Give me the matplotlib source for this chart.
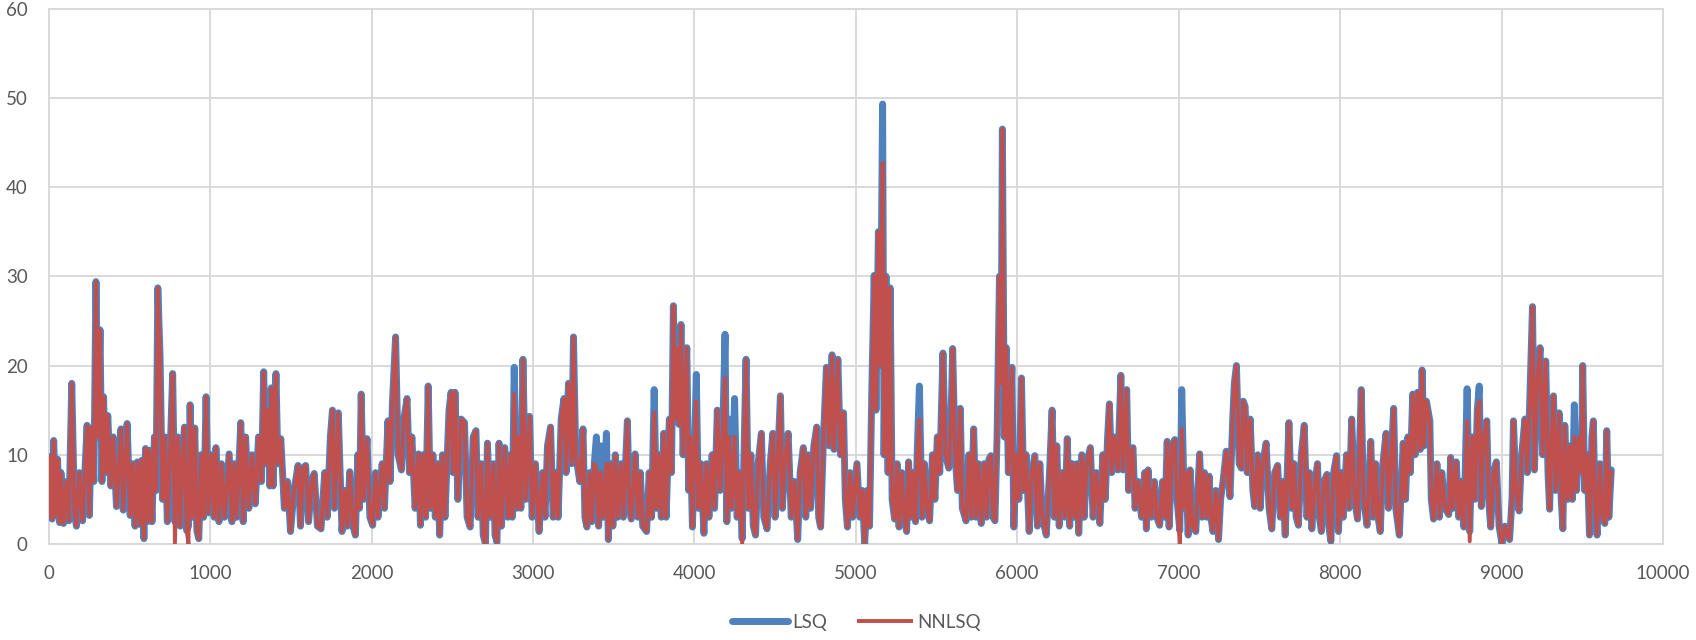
import numpy as np
import matplotlib
matplotlib.use("Agg")
import matplotlib.pyplot as plt

# ------ values (spike tops / troughs) -------------------------------
sample_x = [
    0, 12, 22, 31, 45, 55, 68, 76, 92, 110,
    125, 143, 160, 172, 190, 210, 238, 252, 265, 280,
    293, 305, 318, 330, 340, 352, 366, 385, 400, 420,
    448, 462, 486, 505, 520, 535, 550, 565, 578, 590,
    600, 612, 625, 640, 655, 665, 676, 690, 705, 720,
    735, 752, 768, 782, 800, 815, 830, 841, 855, 866,
    876, 890, 905, 918, 930, 945, 960, 975, 990, 1010,
    1025, 1036, 1055, 1070, 1090, 1118, 1135, 1150, 1165, 1190,
    1205, 1220, 1240, 1260, 1280, 1300, 1318, 1332, 1345, 1360,
    1370, 1379, 1390, 1408, 1420, 1438, 1460, 1480, 1498, 1520,
    1545, 1560, 1575, 1592, 1610, 1630, 1645, 1665, 1687, 1710,
    1725, 1745, 1758, 1770, 1794, 1817, 1835, 1850, 1865, 1885,
    1900, 1915, 1925, 1936, 1950, 1972, 1990, 2007, 2025, 2040,
    2066, 2080, 2102, 2115, 2130, 2149, 2165, 2185, 2200, 2220,
    2235, 2250, 2270, 2291, 2303, 2320, 2335, 2351, 2365, 2380,
    2395, 2410, 2422, 2440, 2455, 2480, 2493, 2505, 2517, 2535,
    2555, 2576, 2592, 2611, 2630, 2647, 2660, 2680, 2692, 2706,
    2718, 2735, 2755, 2765, 2777, 2790, 2805, 2825, 2845, 2860,
    2872, 2884, 2900, 2915, 2925, 2938, 2955, 2979, 2995, 3015,
    3038, 3060, 3075, 3090, 3109, 3125, 3140, 3156, 3175, 3192,
    3205, 3220, 3240, 3251, 3265, 3290, 3310, 3322, 3334, 3350,
    3365, 3380, 3393, 3407, 3420, 3435, 3455, 3467, 3480, 3495,
    3510, 3525, 3545, 3560, 3585, 3598, 3609, 3633, 3650, 3665,
    3680, 3704, 3720, 3735, 3751, 3765, 3780, 3795, 3810, 3825,
    3845, 3858, 3870, 3882, 3895, 3905, 3917, 3930, 3953, 3965,
    3975, 3988, 4000, 4012, 4025, 4040, 4059, 4075, 4090, 4110,
    4125, 4142, 4160, 4175, 4190, 4201, 4215, 4230, 4249, 4265,
    4280, 4296, 4320, 4335, 4350, 4365, 4379, 4395, 4415, 4430,
    4450, 4470, 4486, 4500, 4515, 4533, 4545, 4560, 4581, 4600,
    4620, 4640, 4655, 4675, 4690, 4705, 4720, 4740, 4758, 4770,
    4782, 4800, 4818, 4835, 4853, 4865, 4889, 4905, 4924, 4935,
    4948, 4965, 4980, 5007, 5025, 5040, 5055, 5070, 5085, 5100,
    5114, 5125, 5140, 5152, 5166, 5175, 5187, 5200, 5213, 5225,
    5240, 5256, 5268, 5285, 5300, 5315, 5327, 5340, 5355, 5370,
    5380, 5394, 5410, 5425, 5440, 5457, 5475, 5490, 5505, 5520,
    5540, 5555, 5576, 5590, 5600, 5615, 5630, 5647, 5660, 5683,
    5700, 5715, 5730, 5745, 5760, 5777, 5795, 5810, 5825, 5837,
    5850, 5862, 5875, 5890, 5900, 5908, 5920, 5932, 5945, 5967,
    5979, 5995, 6010, 6026, 6040, 6055, 6074, 6090, 6109, 6125,
    6140, 6155, 6180, 6200, 6216, 6230, 6245, 6260, 6280, 6295,
    6310, 6325, 6340, 6355, 6370, 6381, 6400, 6415, 6430, 6453,
    6470, 6490, 6512, 6530, 6545, 6560, 6571, 6585, 6600, 6623,
    6642, 6654, 6678, 6690, 6705, 6717, 6730, 6750, 6770, 6790,
    6800, 6811, 6830, 6850, 6865, 6882, 6900, 6915, 6929, 6941,
    6960, 6976, 6990, 7007, 7019, 7035, 7045, 7059, 7071, 7085,
    7106, 7130, 7145, 7160, 7175, 7189, 7200, 7212, 7230, 7247,
    7260, 7275, 7295, 7318, 7335, 7345, 7358, 7375, 7389, 7400,
    7412, 7425, 7443, 7460, 7471, 7490, 7505, 7520, 7542, 7560,
    7577, 7595, 7613, 7630, 7645, 7660, 7683, 7700, 7715, 7728,
    7742, 7760, 7778, 7795, 7810, 7825, 7845, 7860, 7872, 7884,
    7900, 7919, 7930, 7943, 7960, 7978, 7990, 8005, 8020, 8040,
    8055, 8072, 8090, 8108, 8131, 8145, 8167, 8190, 8205, 8220,
    8235, 8249, 8265, 8285, 8300, 8315, 8332, 8345, 8367, 8391,
    8405, 8420, 8435, 8450, 8465, 8480, 8497, 8508, 8520, 8535,
    8556, 8565, 8579, 8600, 8615, 8630, 8650, 8673, 8685, 8700,
    8720, 8735, 8750, 8767, 8787, 8803, 8820, 8835, 8850, 8862,
    8875, 8890, 8909, 8920, 8933, 8950, 8968, 8985, 9003, 9020,
    9035, 9050, 9065, 9074, 9090, 9109, 9125, 9145, 9160, 9175,
    9192, 9204, 9220, 9239, 9255, 9274, 9288, 9298, 9310, 9322,
    9335, 9357, 9370, 9380, 9392, 9410, 9425, 9439, 9451, 9465,
    9480, 9495, 9503, 9515, 9530, 9545, 9560, 9569, 9580, 9592,
    9610, 9625, 9640, 9652, 9665, 9680,
]

lsq = [
    3.0, 9.8, 2.8, 11.6, 3.2, 9.5, 2.4, 8.0, 2.3, 7.0,
    2.6, 18.0, 3.5, 2.0, 8.0, 2.6, 13.3, 3.2, 13.0, 7.0,
    29.4, 12.0, 24.0, 7.0, 16.5, 8.0, 14.4, 6.5, 12.0, 4.2,
    12.9, 3.8, 13.5, 3.2, 9.0, 2.0, 9.2, 2.2, 9.4, 0.6,
    10.7, 2.5, 10.5, 2.5, 12.0, 6.0, 28.7, 21.0, 5.0, 12.0,
    2.5, 10.0, 19.1, 2.5, 12.0, 2.0, 10.0, 13.1, 1.5, 2.0,
    15.6, 3.0, 13.0, 1.5, 0.6, 10.0, 3.0, 16.5, 3.5, 10.0,
    3.0, 10.8, 2.5, 9.0, 3.0, 10.1, 2.5, 9.0, 3.0, 13.6,
    2.5, 12.0, 4.0, 10.0, 4.5, 12.0, 7.0, 19.3, 9.0, 15.0,
    6.5, 17.5, 6.5, 19.1, 9.0, 11.8, 4.0, 7.0, 1.4, 6.0,
    8.8, 2.0, 8.5, 8.8, 2.5, 7.0, 7.9, 2.0, 1.7, 8.0,
    3.0, 12.0, 15.0, 4.0, 14.7, 1.4, 6.0, 2.0, 8.1, 2.0,
    1.0, 10.0, 4.0, 16.8, 5.0, 11.8, 3.0, 2.1, 8.0, 3.0,
    9.0, 4.0, 13.8, 7.0, 16.0, 23.2, 10.0, 8.3, 14.0, 16.3,
    8.0, 12.0, 4.0, 10.1, 2.1, 10.0, 3.0, 17.7, 4.0, 10.0,
    3.0, 9.0, 1.0, 10.0, 3.0, 15.0, 17.0, 8.0, 17.0, 5.0,
    14.0, 13.6, 3.0, 1.9, 12.0, 12.7, 3.0, 9.0, 1.0, 0.0,
    11.3, 3.0, 9.0, 1.0, 0.2, 11.3, 2.0, 10.8, 3.0, 10.0,
    3.0, 19.8, 4.0, 12.0, 4.0, 20.7, 5.0, 14.3, 3.0, 9.0,
    1.4, 8.0, 3.0, 11.0, 13.1, 3.0, 8.0, 3.0, 14.0, 16.3,
    8.0, 18.0, 9.0, 23.2, 10.0, 7.0, 12.9, 3.0, 1.9, 8.0,
    2.5, 9.0, 12.0, 2.0, 11.0, 3.0, 12.4, 0.5, 9.0, 2.0,
    10.0, 3.0, 9.0, 3.0, 13.8, 4.0, 2.8, 10.1, 3.0, 8.0,
    2.0, 1.4, 8.0, 3.0, 17.3, 4.0, 10.0, 3.0, 12.4, 3.0,
    14.0, 8.0, 26.7, 14.0, 22.0, 13.4, 24.6, 10.0, 22.0, 6.0,
    12.0, 1.9, 10.0, 19.0, 4.0, 9.0, 1.2, 9.0, 3.0, 10.0,
    4.0, 15.0, 6.0, 12.0, 23.5, 2.5, 14.0, 4.0, 16.3, 3.0,
    8.0, 0.6, 20.7, 4.0, 10.0, 2.0, 1.0, 9.0, 12.4, 3.0,
    1.7, 9.0, 12.4, 3.0, 9.0, 16.6, 4.0, 9.0, 12.4, 3.0,
    7.0, 0.5, 8.0, 10.8, 3.0, 10.0, 4.0, 11.0, 13.1, 3.0,
    1.9, 12.0, 19.8, 11.0, 21.2, 10.6, 20.7, 10.0, 14.7, 5.0,
    1.9, 8.0, 3.0, 9.0, 3.0, 6.0, 0.0, 6.0, 2.0, 18.0,
    30.1, 15.0, 35.0, 20.0, 49.3, 10.0, 30.0, 8.0, 28.7, 5.0,
    2.8, 9.0, 1.9, 8.0, 3.0, 1.4, 9.2, 3.0, 8.0, 2.5,
    10.0, 17.7, 3.0, 9.0, 4.0, 2.6, 10.0, 5.0, 12.0, 8.0,
    21.4, 10.0, 8.5, 14.0, 21.9, 10.0, 6.0, 15.2, 4.0, 2.6,
    10.0, 3.0, 12.9, 3.0, 9.0, 2.3, 9.0, 3.0, 9.5, 9.9,
    3.0, 2.6, 12.0, 30.0, 18.0, 46.5, 12.0, 22.0, 8.0, 19.8,
    1.9, 10.0, 5.0, 18.6, 6.0, 10.0, 1.4, 8.0, 9.9, 2.0,
    9.0, 3.0, 1.0, 8.0, 15.0, 3.0, 11.0, 2.0, 8.0, 3.0,
    11.8, 2.0, 9.0, 3.0, 9.0, 1.2, 10.0, 3.0, 9.0, 10.8,
    3.0, 8.0, 2.3, 10.0, 5.0, 12.0, 15.7, 8.0, 12.0, 8.3,
    18.9, 8.3, 17.3, 6.0, 10.0, 10.8, 4.0, 7.0, 3.0, 8.0,
    1.7, 8.3, 3.0, 7.0, 3.0, 2.1, 7.0, 3.0, 11.5, 1.9,
    11.0, 11.7, 5.0, 1.5, 17.3, 4.0, 8.0, 1.0, 8.3, 2.0,
    1.4, 10.1, 3.0, 8.0, 3.0, 7.6, 3.0, 1.4, 6.0, 0.5,
    5.0, 7.0, 10.4, 5.3, 14.0, 18.0, 20.0, 9.0, 8.5, 16.0,
    15.4, 8.0, 14.0, 6.0, 4.2, 10.0, 4.0, 9.0, 11.3, 4.0,
    1.7, 8.0, 8.8, 3.0, 7.0, 1.0, 13.6, 4.0, 9.0, 3.0,
    2.1, 10.0, 13.3, 3.0, 8.0, 1.7, 7.0, 9.0, 3.0, 1.4,
    7.0, 7.8, 2.0, 0.3, 8.0, 9.9, 1.4, 8.0, 3.0, 10.0,
    4.0, 14.0, 5.0, 2.8, 17.3, 5.0, 2.1, 11.5, 3.0, 9.0,
    3.0, 1.4, 9.0, 12.4, 4.0, 9.0, 15.2, 4.0, 1.0, 11.3,
    5.0, 12.0, 8.0, 16.8, 10.0, 17.0, 10.6, 19.5, 11.0, 16.0,
    13.8, 5.0, 2.8, 9.0, 3.0, 8.0, 4.0, 3.3, 9.7, 4.0,
    9.2, 3.0, 7.0, 1.9, 17.4, 1.4, 12.0, 5.0, 15.0, 17.7,
    4.2, 12.0, 13.8, 5.0, 1.9, 8.0, 9.2, 2.0, 0.0, 2.0,
    1.0, 0.5, 5.0, 13.8, 6.0, 3.7, 10.0, 14.0, 8.0, 16.0,
    26.6, 8.3, 18.0, 22.0, 10.0, 20.5, 8.0, 3.9, 12.0, 16.6,
    6.0, 14.7, 5.0, 1.7, 13.3, 5.0, 11.0, 5.0, 15.6, 6.0,
    12.0, 8.0, 20.0, 6.0, 10.0, 1.0, 12.0, 13.8, 4.0, 1.0,
    9.0, 3.0, 2.3, 12.7, 3.0, 8.3,
]

# NNLSQ follows LSQ except at these samples (lower tops, zero dips)
nnlsq_x = [782, 866, 2884, 3393, 3420, 3455, 3751, 4012, 4190, 4215,
           4249, 4296, 5166, 5394, 7007, 7019, 8787, 8803, 8862, 9451]
nnlsq_y = [0.0, 0.0, 16.8, 8.5, 8.0, 9.0, 14.7, 16.0, 18.6, 12.0,
           12.0, 0.0, 42.7, 14.0, 0.0, 12.9, 13.8, 0.3, 16.0, 12.0]

x = np.array(sample_x)
y_lsq = np.array(lsq)
y_nn = y_lsq.copy()
for xv, yv in zip(nnlsq_x, nnlsq_y):
    y_nn[x == xv] = yv

blue = '#4F81BD'
red = '#C0504D'
grid_c = '#D9D9D9'
txt_c = '#595959'

plt.rcParams['font.family'] = ['Lato', 'DejaVu Sans']
fig = plt.figure(figsize=(16.96, 6.4), dpi=100)
ax = fig.add_axes([0.0287, 0.15, 0.9518, 0.8366])

ax.plot(x, y_lsq, color=blue, lw=5.0, solid_joinstyle='round',
        solid_capstyle='round', label='LSQ', zorder=3)
ax.plot(x, y_nn, color=red, lw=2.8, solid_joinstyle='round',
        solid_capstyle='butt', label='NNLSQ', zorder=4)

ax.set_xlim(0, 10000)
ax.set_ylim(0, 60)
ax.set_xticks(np.arange(0, 10001, 1000))
ax.set_yticks(np.arange(0, 61, 10))
ax.grid(True, color=grid_c, lw=1.4)
ax.set_axisbelow(True)
for s in ax.spines.values():
    s.set_color(grid_c)
    s.set_linewidth(1.4)
ax.tick_params(length=0, labelsize=13.5, labelcolor=txt_c)
ax.tick_params(axis='y', pad=15)
ax.tick_params(axis='x', pad=15)

leg = fig.legend(loc='center', bbox_to_anchor=(0.505, 0.028), ncol=2,
                 frameon=False, fontsize=13.5, handlelength=3.0,
                 handletextpad=0.2, columnspacing=1.6)
for t in leg.get_texts():
    t.set_color(txt_c)

fig.savefig('out.png', dpi=100)
